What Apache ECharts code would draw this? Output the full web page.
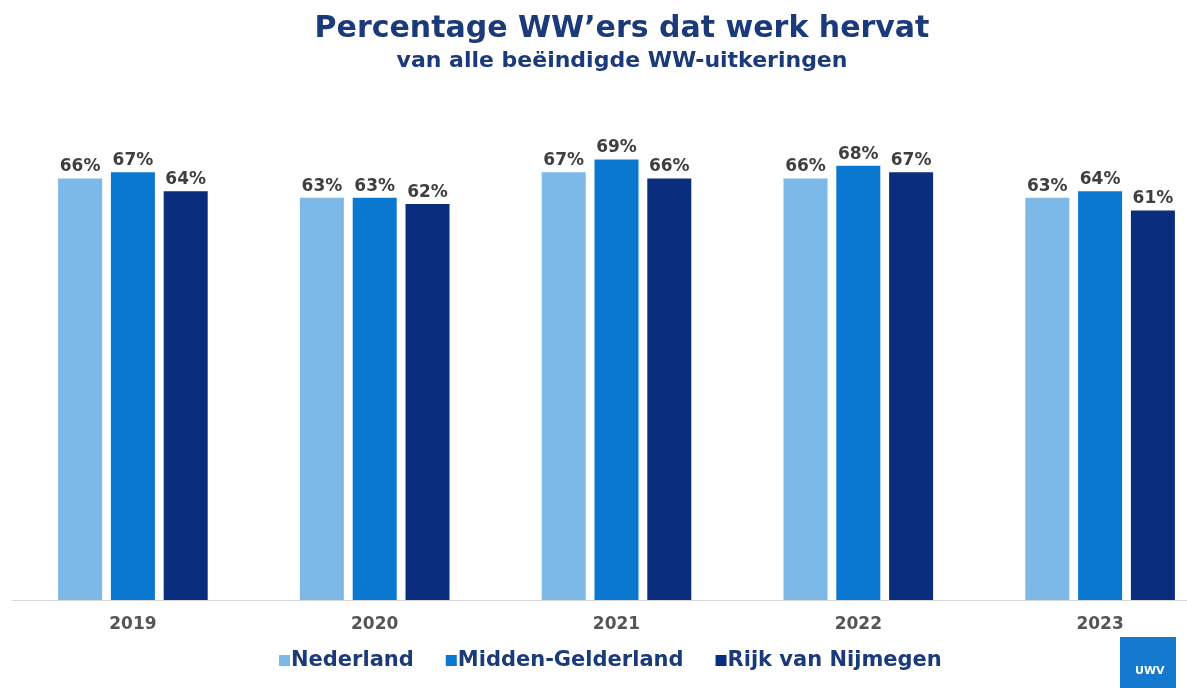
<!DOCTYPE html>
<html><head><meta charset="utf-8">
<script src="https://cdn.jsdelivr.net/npm/echarts@6/dist/echarts.min.js"></script>
<style>html,body{margin:0;padding:0;background:#fff}#c{width:1187px;height:688px}</style>
</head><body><div id="c"></div>
<script>
const categories = ['2019','2020','2021','2022','2023'];
const nederland = [66,63,67,66,63];
const middenGelderland = [67,63,69,68,64];
const rijkVanNijmegen = [64,62,66,67,61];
const seriesNames = ['Nederland','Midden-Gelderland','Rijk van Nijmegen'];
const colors = ['#7db9e8','#0a78d0','#0b2d7e'];

const chart = echarts.init(document.getElementById('c'));
const lbl = {show:true, position:'top', distance:3, formatter:'{c}%', color:'#3f3f3f', fontFamily:'DejaVu Sans', fontWeight:'bold', fontSize:17};
function mk(name, data, i){
  return {name, type:'bar', data, barWidth:44, barGap:'20%', itemStyle:{color:colors[i]}, label:lbl};
}
chart.setOption({
  animation:false,
  color:colors,
  title:{
    text:'Percentage WW\u2019ers dat werk hervat',
    subtext:'van alle be\u00ebindigde WW-uitkeringen',
    left:617, textAlign:'center', top:9, itemGap:6,
    textStyle:{color:'#1b3a7a', fontFamily:'DejaVu Sans', fontWeight:'bold', fontSize:30},
    subtextStyle:{color:'#1b3a7a', fontFamily:'DejaVu Sans', fontWeight:'bold', fontSize:22}
  },
  legend:{
    data:seriesNames, left:274, top:645,
    icon:'rect', itemWidth:11, itemHeight:11, itemGap:32,
    textStyle:{color:'#1b3a7a', fontFamily:'DejaVu Sans', fontWeight:'bold', fontSize:21, padding:[0,0,0,-4]}
  },
  grid:{left:12, width:1209, top:153, bottom:88, outerBoundsMode:'none', containLabel:false},
  xAxis:{
    type:'category', data:categories,
    axisLine:{lineStyle:{color:'#d9d9d9', width:1}},
    axisTick:{show:false},
    axisLabel:{color:'#555', fontFamily:'DejaVu Sans', fontWeight:'bold', fontSize:17, margin:16}
  },
  yAxis:{type:'value', min:0, max:70, show:false, splitLine:{show:false}},
  series:[mk(seriesNames[0], nederland, 0), mk(seriesNames[1], middenGelderland, 1), mk(seriesNames[2], rijkVanNijmegen, 2)],
  graphic:[
    {type:'rect', left:1120, top:637, shape:{width:56, height:51}, style:{fill:'#1679d0'}},
    {type:'text', left:1135, top:666, style:{text:'UWV', fill:'#fff', font:'bold 11px DejaVu Sans'}}
  ]
});
</script></body></html>
